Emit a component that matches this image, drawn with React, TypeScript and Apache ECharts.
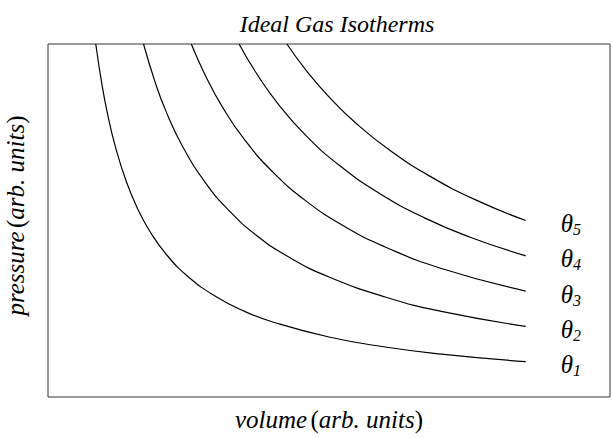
import React, { useEffect, useRef } from "react";
import * as echarts from "echarts";

// Temperatures (labels) and read isotherm points [volume, pressure]
const labels = ["1", "2", "3", "4", "5"];

const theta1: number[][] = [
  [0.85, 12], [0.95, 10.74], [1.05, 9.71], [1.2, 8.5], [1.4, 7.29], [1.6, 6.38],
  [1.8, 5.67], [2.1, 4.86], [2.5, 4.08], [3, 3.4], [3.5, 2.91], [4, 2.55],
  [5, 2.04], [6, 1.7], [7, 1.46], [8.5, 1.2],
];
const theta2: number[][] = [
  [1.7, 12], [1.9, 10.74], [2.1, 9.71], [2.4, 8.5], [2.8, 7.29], [3.2, 6.38],
  [3.7, 5.51], [4.3, 4.74], [5, 4.08], [6, 3.4], [7, 2.91], [8.5, 2.4],
];
const theta3: number[][] = [
  [2.55, 12], [2.8, 10.93], [3.1, 9.87], [3.5, 8.74], [4, 7.65], [4.6, 6.65],
  [5.3, 5.77], [6, 5.1], [7, 4.37], [8.5, 3.6],
];
const theta4: number[][] = [
  [3.4, 12], [3.7, 11.03], [4.1, 9.95], [4.6, 8.87], [5.2, 7.85], [5.9, 6.92],
  [6.7, 6.09], [7.5, 5.44], [8.5, 4.8],
];
const theta5: number[][] = [
  [4.25, 12], [4.6, 11.09], [5, 10.2], [5.5, 9.27], [6.1, 8.36], [6.8, 7.5],
  [7.6, 6.71], [8.5, 6.0],
];

const curves = [theta1, theta2, theta3, theta4, theta5];

const serif = "Times New Roman";

export default function App() {
  const ref = useRef<HTMLDivElement>(null);
  useEffect(() => {
    if (!ref.current) return;
    const chart = echarts.init(ref.current, null, { renderer: "svg" });
    const nameRich = {
      i: { fontFamily: serif, fontStyle: "italic", fontSize: 25, color: "#000" },
      u: { fontFamily: serif, fontSize: 25, color: "#000" },
    };
    chart.setOption({
      animation: false,
      backgroundColor: "#ffffff",
      title: {
        text: "Ideal Gas Isotherms",
        left: 332,
        textAlign: "center",
        top: 7,
        textStyle: {
          fontFamily: serif,
          fontStyle: "italic",
          fontWeight: "normal",
          fontSize: 24,
          color: "#000",
        },
      },
      grid: {
        left: 48,
        right: 3,
        top: 44,
        bottom: 41,
        show: true,
        borderColor: "#333",
        borderWidth: 1,
        backgroundColor: "transparent",
        containLabel: false,
        outerBoundsMode: "none",
      },
      xAxis: {
        type: "value",
        min: 0,
        max: 10,
        axisLine: { show: false },
        axisTick: { show: false },
        axisLabel: { show: false },
        splitLine: { show: false },
        name: "{i|volume} {u|(}{i|arb. units}{u|)}",
        nameLocation: "middle",
        nameGap: 10,
        nameTextStyle: { rich: nameRich },
      },
      yAxis: {
        type: "value",
        min: 0,
        max: 12,
        axisLine: { show: false },
        axisTick: { show: false },
        axisLabel: { show: false },
        splitLine: { show: false },
        name: "{i|pressure} {u|(}{i|arb. units}{u|)}",
        nameLocation: "middle",
        nameGap: 20,
        nameTextStyle: { rich: nameRich, padding: [0, 0, 0, 10] },
      },
      series: curves.map((d, idx) => ({
        type: "line",
        data: d,
        smooth: 0.5,
        showSymbol: false,
        symbol: "none",
        clip: true,
        lineStyle: { color: "#000", width: 1.2 },
        endLabel: {
          show: true,
          distance: 35,
          offset: [0, 3],
          formatter: "{t|θ}{s|" + labels[idx] + "}",
          rich: {
            t: {
              fontFamily: serif,
              fontStyle: "italic",
              fontSize: 25,
              color: "#000",
              lineHeight: 28,
              verticalAlign: "middle",
            },
            s: {
              fontFamily: serif,
              fontStyle: "italic",
              fontSize: 16,
              color: "#000",
              lineHeight: 16,
              verticalAlign: "bottom",
              padding: [12, 0, 0, 0],
            },
          },
        },
      })),
    });
    return () => chart.dispose();
  }, []);
  return (
    <div
      ref={ref}
      style={{ position: "fixed", left: 0, top: 0, width: 613, height: 438 }}
    />
  );
}
